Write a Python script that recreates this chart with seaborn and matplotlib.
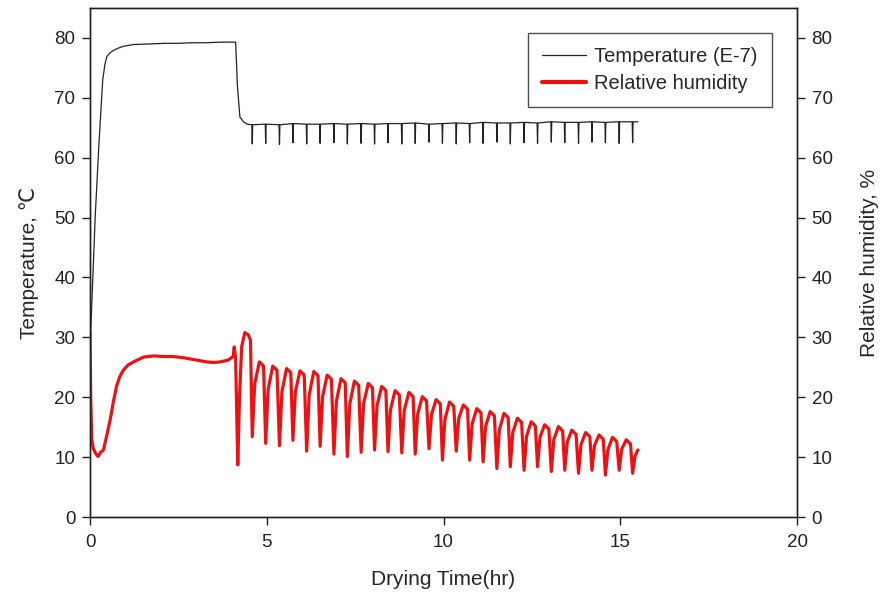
import numpy as np
import pandas as pd
import matplotlib
matplotlib.use("Agg")
import matplotlib.pyplot as plt
import seaborn as sns
from matplotlib.lines import Line2D

# ---------------- data ----------------
# Temperature: warm-up and first plateau
temp_time_start = [0.00, 0.05, 0.15, 0.25, 0.36, 0.42, 0.47, 0.56, 0.66, 0.80, 0.94,
                   1.23, 1.70, 2.10, 2.50, 2.90, 3.30, 3.70, 4.12, 4.17, 4.24, 4.34, 4.45]
temp_value_start = [28.0, 35.5, 50.5, 62.0, 73.0, 75.5, 76.8, 77.5, 77.9, 78.3, 78.6,
                    78.9, 79.0, 79.1, 79.1, 79.2, 79.2, 79.3, 79.3, 72.0, 66.8, 66.0, 65.6]
# Temperature: periodic downward spikes on the second plateau
spike_time = [4.59, 4.97, 5.36, 5.74, 6.13, 6.51, 6.90, 7.28, 7.67, 8.05,
              8.43, 8.82, 9.20, 9.59, 9.97, 10.36, 10.74, 11.12, 11.51, 11.89,
              12.28, 12.66, 13.05, 13.43, 13.82, 14.20, 14.58, 14.97, 15.35]
spike_level = [65.5, 65.6, 65.5, 65.7, 65.6, 65.6, 65.7, 65.6, 65.7, 65.6,
               65.7, 65.7, 65.8, 65.6, 65.7, 65.8, 65.7, 65.9, 65.8, 65.8,
               65.9, 65.8, 66.0, 65.9, 65.9, 66.0, 65.9, 66.0, 66.0]
spike_low = [62.3, 62.4, 62.2, 62.5, 62.3, 62.4, 62.5, 62.3, 62.4, 62.3,
             62.5, 62.3, 62.4, 62.6, 62.4, 62.3, 62.5, 62.4, 62.6, 62.3,
             62.5, 62.4, 62.6, 62.5, 62.4, 62.6, 62.5, 62.4, 62.5]
temp_time_end = [15.50]
temp_value_end = [66.0]

# Relative humidity
rh_time = [0.00, 0.02, 0.05, 0.09, 0.16, 0.23, 0.30, 0.38, 0.47, 0.57, 0.66, 0.75, 0.84,
           0.94, 1.08, 1.23, 1.51, 1.80, 2.07, 2.35, 2.64, 3.02, 3.30, 3.50, 3.68, 3.91,
           4.05, 4.08, 4.12, 4.18, 4.23, 4.29, 4.38, 4.48, 4.54,
           4.59, 4.66, 4.79, 4.91,
           4.97, 5.04, 5.17, 5.29,
           5.36, 5.43, 5.56, 5.68,
           5.74, 5.81, 5.94, 6.06,
           6.13, 6.20, 6.33, 6.45,
           6.51, 6.58, 6.71, 6.83,
           6.90, 6.97, 7.10, 7.22,
           7.28, 7.35, 7.48, 7.60,
           7.67, 7.74, 7.87, 7.99,
           8.05, 8.12, 8.25, 8.37,
           8.43, 8.50, 8.63, 8.75,
           8.82, 8.89, 9.02, 9.14,
           9.20, 9.27, 9.40, 9.52,
           9.59, 9.66, 9.79, 9.91,
           9.97, 10.04, 10.17, 10.29,
           10.36, 10.43, 10.56, 10.68,
           10.74, 10.81, 10.94, 11.06,
           11.12, 11.19, 11.32, 11.44,
           11.51, 11.58, 11.71, 11.83,
           11.89, 11.96, 12.09, 12.21,
           12.28, 12.35, 12.48, 12.60,
           12.66, 12.73, 12.86, 12.98,
           13.05, 13.12, 13.25, 13.37,
           13.43, 13.50, 13.63, 13.75,
           13.82, 13.89, 14.02, 14.14,
           14.20, 14.27, 14.40, 14.52,
           14.58, 14.65, 14.78, 14.90,
           14.97, 15.04, 15.17, 15.29,
           15.35, 15.42, 15.50]
rh_value = [30.9, 20.0, 13.0, 11.5, 10.6, 10.1, 10.8, 11.2, 13.5, 16.2, 19.2, 21.8, 23.4,
            24.5, 25.4, 25.9, 26.7, 26.9, 26.8, 26.8, 26.6, 26.2, 25.9, 25.8, 25.9, 26.2,
            26.8, 28.4, 26.5, 8.7, 20.0, 28.4, 30.8, 30.4, 29.5,
            13.4, 22.2, 25.9, 25.2,
            12.3, 21.3, 25.2, 24.5,
            11.9, 20.9, 24.8, 24.1,
            12.8, 20.9, 24.4, 23.7,
            11.0, 20.3, 24.3, 23.6,
            11.8, 20.1, 23.7, 23.0,
            10.5, 19.3, 23.1, 22.4,
            10.1, 18.9, 22.7, 22.0,
            10.8, 18.9, 22.3, 21.6,
            11.2, 18.6, 21.8, 21.1,
            10.9, 17.9, 21.1, 20.4,
            10.7, 17.8, 20.8, 20.1,
            10.5, 17.2, 20.1, 19.4,
            11.4, 17.1, 19.6, 18.9,
            9.5, 16.3, 19.2, 18.5,
            11.0, 16.4, 18.7, 18.0,
            9.5, 15.5, 18.1, 17.4,
            9.2, 15.1, 17.6, 16.9,
            8.1, 14.5, 17.3, 16.6,
            8.4, 14.1, 16.5, 15.8,
            7.8, 13.5, 15.9, 15.2,
            8.4, 13.3, 15.4, 14.7,
            7.6, 12.9, 15.1, 14.4,
            7.8, 12.5, 14.5, 13.8,
            7.3, 12.1, 14.1, 13.4,
            7.8, 11.9, 13.7, 13.0,
            7.0, 11.2, 13.3, 12.6,
            7.8, 11.3, 12.9, 12.2,
            7.3, 10.2, 11.2]

x_ticks = [0, 5, 10, 15, 20]
y_ticks = [0, 10, 20, 30, 40, 50, 60, 70, 80]

# ---------------- build tables ----------------
t_time = list(temp_time_start)
t_val = list(temp_value_start)
for st, lv, lo in zip(spike_time, spike_level, spike_low):
    t_time += [st - 0.012, st, st + 0.012]
    t_val += [lv, lo, lv]
t_time += temp_time_end
t_val += temp_value_end
temp_df = pd.DataFrame({"time": t_time, "temp": t_val})
rh_df = pd.DataFrame({"time": rh_time, "rh": rh_value})

# ---------------- plot ----------------
sns.set_style("ticks")
plt.rcParams["font.family"] = ["Liberation Sans", "DejaVu Sans"]

fig = plt.figure(figsize=(8.8, 6.03), dpi=100)
ax = fig.add_axes([90 / 880, 86 / 603, 707 / 880, 509 / 603])
ax2 = ax.twinx()

sns.lineplot(data=temp_df, x="time", y="temp", ax=ax, color="#222222",
             linewidth=0.9, estimator=None, sort=False)
sns.lineplot(data=rh_df, x="time", y="rh", ax=ax2, color="#ee1111",
             linewidth=2.3, estimator=None, sort=False)
ax.set_zorder(ax2.get_zorder() + 1)
ax.patch.set_visible(False)

for a in (ax, ax2):
    a.set_xlim(0, 20)
    a.set_ylim(0, 85)
    a.set_yticks(y_ticks)
    a.tick_params(axis="y", direction="out", length=6, width=1, pad=4.5,
                  labelsize=13.5, colors="#222222")
    for s in a.spines.values():
        s.set_visible(True)
        s.set_color("#222222")
        s.set_linewidth(1.0)
ax.set_xticks(x_ticks)
ax.tick_params(axis="x", direction="out", length=6, width=1, pad=6,
               labelsize=13.5, colors="#222222")
ax.set_xlabel("Drying Time(hr)", fontsize=15, labelpad=14)
ax.set_ylabel("Temperature, ℃", fontsize=15, labelpad=11)
ax2.set_ylabel("Relative humidity, %", fontsize=15, labelpad=20)
ax2.set_xlabel("")

handles = [Line2D([], [], color="#222222", linewidth=0.9),
           Line2D([], [], color="#ee1111", linewidth=3.0)]
leg = ax.legend(handles, ["Temperature (E-7)", "Relative humidity"],
                loc="upper right", bbox_to_anchor=(0.964, 0.9515),
                borderaxespad=0.0, fontsize=14.5, frameon=True, fancybox=False,
                borderpad=0.7, handlelength=2.2, handletextpad=0.4,
                labelspacing=0.4)
leg.get_frame().set_edgecolor("#222222")
leg.get_frame().set_linewidth(1.0)

fig.savefig("out.png", dpi=100)
